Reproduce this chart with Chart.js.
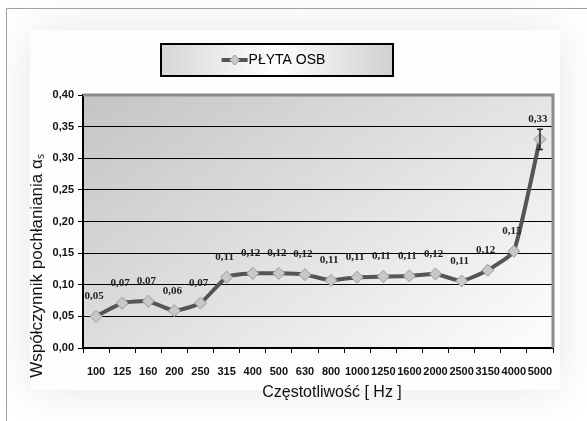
<!DOCTYPE html>
<html>
<head>
<meta charset="utf-8">
<script src="https://cdn.jsdelivr.net/npm/chart.js@4.4.0/dist/chart.umd.min.js"></script>
<style>
  html, body { margin: 0; padding: 0; background: #fff; }
  #wrap { width: 587px; height: 421px; position: relative; }
</style>
</head>
<body>
<div id="wrap"><canvas id="osbChart" width="587" height="421"></canvas></div>
<script>
const freqs = ['100', '125', '160', '200', '250', '315', '400', '500', '630', '800',
  '1000', '1250', '1600', '2000', '2500', '3150', '4000', '5000'];
const alpha = [0.050, 0.071, 0.074, 0.059, 0.071, 0.112, 0.118, 0.118, 0.116, 0.107,
  0.112, 0.113, 0.114, 0.117, 0.106, 0.123, 0.153, 0.330];
const errHalf = [0, 0, 0, 0, 0, 0, 0, 0, 0, 0, 0, 0, 0, 0, 0, 0, 0, 0.016];
const seriesName = 'PŁYTA OSB';
const yTitle = 'Współczynnik pochłaniania αₛ';
const xTitle = 'Częstotliwość [ Hz ]';

const fmt = v => v.toFixed(2).replace('.', ',');

// legend marker: line with a diamond on it
const marker = document.createElement('canvas');
marker.width = 30; marker.height = 12;
(() => {
  const c = marker.getContext('2d');
  c.strokeStyle = '#555'; c.lineWidth = 4;
  c.beginPath(); c.moveTo(2, 6); c.lineTo(28, 6); c.stroke();
  c.fillStyle = '#c8c8c8'; c.strokeStyle = '#999'; c.lineWidth = 1;
  c.beginPath(); c.moveTo(15, 1); c.lineTo(20, 6); c.lineTo(15, 11); c.lineTo(10, 6); c.closePath();
  c.fill(); c.stroke();
})();

const decor = {
  id: 'decor',
  beforeInit(chart) {
    const fit = chart.legend.fit;
    chart.legend.fit = function () {
      fit.bind(chart.legend)();
      this.height += 18;
    };
  },
  beforeDraw(chart) {
    const ctx = chart.ctx;
    const a = chart.chartArea;
    ctx.save();
    ctx.fillStyle = '#fff';
    ctx.fillRect(0, 0, chart.width, chart.height);
    // soft panel glow
    ctx.shadowColor = 'rgba(0,0,0,0.10)';
    ctx.shadowBlur = 45;
    ctx.fillStyle = '#fdfdfd';
    ctx.fillRect(30, 30, 530, 360);
    ctx.shadowBlur = 0;
    // outer frame (left & top)
    ctx.strokeStyle = '#a0a0a0'; ctx.lineWidth = 1;
    ctx.beginPath(); ctx.moveTo(6.5, chart.height); ctx.lineTo(6.5, 8.5); ctx.lineTo(chart.width, 8.5); ctx.stroke();
    // plot area gradient
    const g = ctx.createLinearGradient(a.left, a.top, a.left + 260, a.bottom + 120);
    g.addColorStop(0, '#c4c4c4');
    g.addColorStop(1, '#fbfbfb');
    ctx.fillStyle = g;
    ctx.fillRect(a.left, a.top, a.right - a.left, a.bottom - a.top);
    // legend box
    const h = chart.legend.legendHitBoxes[0];
    if (h) {
      const bx = 161, bw = 232, by = h.top + h.height / 2 - 16, bh = 32;
      const lg = ctx.createLinearGradient(bx, 0, bx + bw, 0);
      lg.addColorStop(0, '#d6d6d6');
      lg.addColorStop(0.5, '#ffffff');
      lg.addColorStop(1, '#d0d0d0');
      ctx.fillStyle = lg;
      ctx.fillRect(bx, by, bw, bh);
      ctx.strokeStyle = '#000'; ctx.lineWidth = 2;
      ctx.strokeRect(bx, by, bw, bh);
    }
    ctx.restore();
  },
  afterDraw(chart) {
    const ctx = chart.ctx;
    const a = chart.chartArea;
    ctx.save();
    // grey top and right plot border
    ctx.strokeStyle = '#8a8a8a'; ctx.lineWidth = 3;
    ctx.beginPath(); ctx.moveTo(a.left, a.top); ctx.lineTo(a.right, a.top); ctx.lineTo(a.right, a.bottom); ctx.stroke();
    ctx.fillStyle = '#111';
    ctx.textAlign = 'center'; ctx.textBaseline = 'middle';
    // x axis title
    ctx.font = '16px "Liberation Sans", Arial, sans-serif';
    ctx.fillText(xTitle, 332, 393);
    // y axis title
    ctx.translate(37, 266);
    ctx.rotate(-Math.PI / 2);
    ctx.font = '17px "Liberation Sans", Arial, sans-serif';
    ctx.fillText(yTitle, 0, 0);
    ctx.restore();
  },
  afterDatasetsDraw(chart) {
    const ctx = chart.ctx;
    const ys = chart.scales.y;
    const pts = chart.getDatasetMeta(0).data;
    ctx.save();
    // error bar caps
    ctx.strokeStyle = '#222'; ctx.lineWidth = 1.5;
    pts.forEach((p, i) => {
      if (!errHalf[i]) return;
      const t = ys.getPixelForValue(alpha[i] + errHalf[i]);
      const b = ys.getPixelForValue(alpha[i] - errHalf[i]);
      ctx.beginPath();
      ctx.moveTo(p.x, t); ctx.lineTo(p.x, b);
      ctx.moveTo(p.x - 3, t); ctx.lineTo(p.x + 3, t);
      ctx.moveTo(p.x - 3, b); ctx.lineTo(p.x + 3, b);
      ctx.stroke();
    });
    ctx.font = 'bold 11px "Liberation Serif", "Times New Roman", serif';
    ctx.fillStyle = '#222';
    ctx.textAlign = 'center'; ctx.textBaseline = 'middle';
    pts.forEach((p, i) => {
      ctx.fillText(fmt(alpha[i]), p.x - 2, p.y - 20);
    });
    ctx.restore();
  }
};

new Chart(document.getElementById('osbChart'), {
  type: 'line',
  data: {
    labels: freqs,
    datasets: [{
      label: seriesName,
      data: alpha,
      borderColor: '#555',
      borderWidth: 4,
      pointStyle: 'rectRot',
      pointRadius: 6,
      pointBackgroundColor: '#c8c8c8',
      pointBorderColor: '#9a9a9a',
      pointBorderWidth: 1,
      tension: 0.15
    }]
  },
  options: {
    responsive: false,
    animation: false,
    layout: { padding: { top: 43, right: 34, left: 0, bottom: 0 } },
    plugins: {
      legend: {
        display: true,
        position: 'top',
        labels: {
          usePointStyle: true,
          color: '#111',
          font: { family: '"Liberation Sans Narrow", "Liberation Sans", Arial', size: 14 },
          padding: 10,
          generateLabels: () => [{ text: seriesName, pointStyle: marker, datasetIndex: 0, lineWidth: 0 }]
        }
      },
      tooltip: { enabled: false }
    },
    scales: {
      x: {
        offset: true,
        afterFit: s => { s.height = 73; },
        grid: { drawOnChartArea: false, drawTicks: true, tickLength: 5, tickColor: '#000', offset: true },
        border: { display: true, color: '#000', width: 2 },
        ticks: {
          autoSkip: false, maxRotation: 0, minRotation: 0, padding: 12,
          color: '#111',
          font: { family: '"Liberation Sans", Arial', size: 11, weight: 'bold' }
        },
        title: { display: false, text: xTitle }
      },
      y: {
        min: 0, max: 0.4,
        afterFit: s => { s.width = 83; },
        grid: { color: '#000', lineWidth: 1, drawTicks: true, tickLength: 5, tickColor: '#000' },
        border: { display: true, color: '#000', width: 2 },
        ticks: {
          stepSize: 0.05, padding: 4, color: '#111',
          callback: v => fmt(v),
          font: { family: '"Liberation Sans", Arial', size: 11, weight: 'bold' }
        },
        title: { display: false, text: yTitle }
      }
    }
  },
  plugins: [decor]
});
</script>
</body>
</html>
